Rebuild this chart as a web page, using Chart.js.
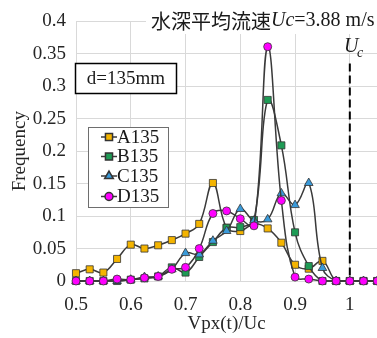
<!DOCTYPE html>
<html>
<head>
<meta charset="utf-8">
<script src="https://cdn.jsdelivr.net/npm/chart.js@4.4.1/dist/chart.umd.min.js"></script>
<style>
  html, body { margin: 0; padding: 0; background: #fff; overflow: hidden; }
  #wrap { position: relative; width: 383px; height: 338px; }
</style>
</head>
<body>
<div id="wrap"><canvas id="chart"></canvas></div>
<script>
// ================= DATA =================
const ratios = [0.5, 0.525, 0.55, 0.575, 0.6, 0.625, 0.65, 0.675, 0.7, 0.725, 0.75, 0.775,
                0.8, 0.825, 0.85, 0.875, 0.9, 0.925, 0.95, 0.975, 1.0, 1.025, 1.05];

const seriesA = [0.012, 0.018, 0.013, 0.034, 0.056, 0.050, 0.055, 0.063, 0.073, 0.088, 0.151, 0.082,
                 0.077, 0.088, 0.081, 0.059, 0.025, 0.019, 0.031, 0, 0, 0, 0];
const seriesB = [0, 0, 0, 0, 0.002, 0.004, 0.007, 0.021, 0.013, 0.037, 0.060, 0.082,
                 0.083, 0.094, 0.279, 0.209, 0.075, 0.023, 0, 0, 0, 0, 0];
const seriesC = [0, 0, 0, 0, 0.002, 0.006, 0.007, 0.018, 0.043, 0.041, 0.062, 0.077,
                 0.111, 0.093, 0.095, 0.135, 0.117, 0.151, 0.020, 0, 0, 0, 0];
const seriesD = [0, 0, 0, 0.003, 0.002, 0.005, 0.007, 0.018, 0.021, 0.050, 0.104, 0.108,
                 0.096, 0.085, 0.361, 0.124, 0.006, 0.003, 0, 0, 0, 0, 0];

const seriesNames = ["A135", "B135", "C135", "D135"];
const xTicks = [0.5, 0.6, 0.7, 0.8, 0.9, 1.0];

// ================= STYLE =================
const SERIF = "'Liberation Serif', 'Times New Roman', serif";
const LINE = "#3a3a3a";
const styles = [
    { fill: "#F4B400", style: "rect", radius: 5 },
    { fill: "#1E9B55", style: "rect", radius: 5 },
    { fill: "#3A9AD9", style: "triangle", radius: 5 },
    { fill: "#FF00FF", style: "circle", radius: 4 }
];

const toPoints = (arr) => ratios.map((x, i) => ({ x, y: arr[i] }));
const fmt = (v) => String(+Number(v).toFixed(2));

function makeDataset(name, arr, i) {
    const s = styles[i];
    return {
        label: name,
        data: toPoints(arr),
        borderColor: LINE,
        borderWidth: 1.5,
        tension: 0.4,
        pointStyle: s.style,
        pointRadius: s.radius,
        pointBackgroundColor: s.fill,
        pointBorderColor: "#333",
        pointBorderWidth: 0.8,
        clip: false,
        order: 4 - i
    };
}

// ================= OVERLAY =================
const overlay = {
    id: "overlay",
    beforeDatasetsDraw(chart) {
        const { ctx, scales: { x, y } } = chart;
        const px = x.getPixelForValue(1.0);
        ctx.save();
        ctx.strokeStyle = "#000";
        ctx.lineWidth = 2;
        ctx.setLineDash([8, 4]);
        ctx.beginPath();
        ctx.moveTo(px, y.getPixelForValue(0.335));
        ctx.lineTo(px, y.getPixelForValue(0));
        ctx.stroke();
        ctx.restore();
    },
    afterDraw(chart) {
        const { ctx } = chart;
        ctx.save();

        // title
        ctx.fillStyle = "#fff";
        ctx.fillRect(146, 8, 237, 26);
        ctx.fillStyle = "#1a1a1a";
        ctx.textBaseline = "middle";
        let tx = 151;
        const ty = 21;
        ctx.font = "20px 'Noto Sans CJK JP'";
        ctx.fillText("水深平均流速", tx, ty);
        tx += ctx.measureText("水深平均流速").width;
        ctx.font = "italic 20px " + SERIF;
        ctx.fillText("Uc", tx, ty);
        tx += ctx.measureText("Uc").width;
        ctx.font = "20px " + SERIF;
        ctx.fillText("=3.88 m/s", tx, ty);

        // Uc marker label
        ctx.font = "italic 20px " + SERIF;
        ctx.fillText("U", 344, 47);
        ctx.font = "italic 14px " + SERIF;
        ctx.fillText("c", 357, 53);

        // d box
        ctx.fillStyle = "#fff";
        ctx.fillRect(75, 63, 102, 31);
        ctx.strokeStyle = "#000";
        ctx.lineWidth = 1.5;
        ctx.strokeRect(75.5, 63.5, 101, 30);
        ctx.fillStyle = "#1a1a1a";
        ctx.font = "19px " + SERIF;
        ctx.textAlign = "center";
        ctx.fillText("d=135mm", 126, 79);

        // legend
        ctx.fillStyle = "#fff";
        ctx.fillRect(88, 127, 81, 81);
        ctx.strokeStyle = "#6e6e6e";
        ctx.lineWidth = 1;
        ctx.strokeRect(88.5, 127.5, 80, 80);
        ctx.textAlign = "left";
        const rows = [137, 156.5, 176, 196.5];
        seriesNames.forEach((name, i) => {
            const yy = rows[i];
            ctx.strokeStyle = LINE;
            ctx.lineWidth = 1.5;
            ctx.beginPath();
            ctx.moveTo(101, yy);
            ctx.lineTo(117, yy);
            ctx.stroke();
            ctx.fillStyle = styles[i].fill;
            ctx.strokeStyle = "#333";
            Chart.helpers.drawPoint(ctx, {
                pointStyle: styles[i].style,
                radius: styles[i].radius,
                rotation: 0,
                borderWidth: 0.8
            }, 109, yy);
            ctx.fillStyle = "#1a1a1a";
            ctx.font = "19px " + SERIF;
            ctx.fillText(name, 117, yy + 1);
        });

        ctx.restore();
    }
};

// ================= CHART =================
new Chart(document.getElementById("chart"), {
    type: "line",
    data: {
        datasets: [
            makeDataset(seriesNames[0], seriesA, 0),
            makeDataset(seriesNames[1], seriesB, 1),
            makeDataset(seriesNames[2], seriesC, 2),
            makeDataset(seriesNames[3], seriesD, 3)
        ]
    },
    plugins: [overlay],
    options: {
        responsive: true,
        maintainAspectRatio: false,
        animation: false,
        layout: { padding: { top: 21, right: 0, left: 0, bottom: 0 } },
        plugins: {
            legend: { display: false },
            tooltip: { enabled: false }
        },
        scales: {
            x: {
                type: "linear",
                min: 0.5,
                max: 1.05,
                afterBuildTicks: (axis) => { axis.ticks = xTicks.map(v => ({ value: v })); },
                afterFit: (axis) => { axis.height = 57; },
                grid: { color: "#d9d9d9", drawTicks: false },
                border: { display: false },
                ticks: {
                    padding: 13,
                    color: "#262626",
                    font: { family: SERIF, size: 19 },
                    callback: (v) => fmt(v)
                },
                title: {
                    display: true,
                    text: "Vpx(t)/Uc",
                    color: "#262626",
                    font: { family: SERIF, size: 19 },
                    padding: { top: 0, bottom: 3 }
                }
            },
            y: {
                min: 0,
                max: 0.4,
                afterFit: (axis) => { axis.width = 76; },
                grid: { color: "#d9d9d9", drawTicks: false },
                border: { display: false },
                ticks: {
                    stepSize: 0.05,
                    padding: 10,
                    color: "#262626",
                    font: { family: SERIF, size: 19 },
                    callback: (v) => fmt(v)
                },
                title: {
                    display: true,
                    text: "Frequency",
                    color: "#262626",
                    font: { family: SERIF, size: 19 },
                    padding: { top: 9, bottom: 0 }
                }
            }
        }
    }
});
</script>
</body>
</html>
